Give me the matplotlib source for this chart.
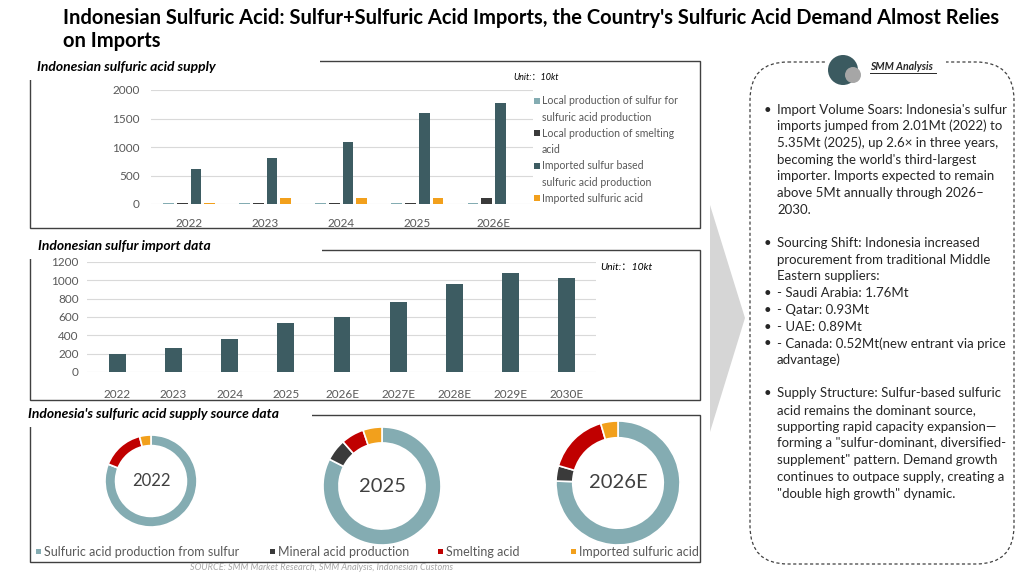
import numpy as np
import matplotlib
matplotlib.use("Agg")
import matplotlib.pyplot as plt
from matplotlib.patches import Rectangle, FancyBboxPatch, Circle, Polygon

plt.rcParams['font.family'] = ['Lato', 'Noto Sans CJK SC', 'DejaVu Sans']

# ---- data ----
supplyYears = ["2022", "2023", "2024", "2025", "2026E"]
localSulfur = [10, 10, 10, 10, 10]
localSmelting = [25, 15, 25, 25, 100]
importedSulfurBased = [610, 800, 1090, 1600, 1770]
importedAcid = [10, 100, 100, 100, 0]
supplyLabels = ["Local production of sulfur for\nsulfuric acid production",
                "Local production of smelting\nacid",
                "Imported sulfur based\nsulfuric acid production",
                "Imported sulfuric acid"]

importYears = ["2022", "2023", "2024", "2025", "2026E", "2027E", "2028E", "2029E", "2030E"]
sulfurImports = [201, 262, 365, 535, 595, 765, 960, 1075, 1020]

donutYears = ["2022", "2025", "2026E"]
donutShares = [[81, 0, 15, 4],
               [82.5, 6, 6.3, 5.2],
               [75.5, 4, 16, 4.5]]
donutLabels = ["Sulfuric acid production from sulfur", "Mineral acid production",
               "Smelting acid", "Imported sulfuric acid"]

bulletLines = [
    ("•", "Import Volume Soars: Indonesia's sulfur"),
    ("", "imports jumped from 2.01Mt (2022) to"),
    ("", "5.35Mt (2025), up 2.6\u00d7 in three years,"),
    ("", "becoming the world's third-largest"),
    ("", "importer. Imports expected to remain"),
    ("", "above 5Mt annually through 2026\u2013"),
    ("", "2030."),
    None,
    ("•", "Sourcing Shift: Indonesia increased"),
    ("", "procurement from traditional Middle"),
    ("", "Eastern suppliers:"),
    ("•", "- Saudi Arabia: 1.76Mt"),
    ("•", "- Qatar: 0.93Mt"),
    ("•", "- UAE: 0.89Mt"),
    ("•", "- Canada: 0.52Mt(new entrant via price"),
    ("", "advantage)"),
    None,
    ("•", "Supply Structure: Sulfur-based sulfuric"),
    ("", "acid remains the dominant source,"),
    ("", "supporting rapid capacity expansion\u2014"),
    ("", "forming a \"sulfur-dominant, diversified-"),
    ("", "supplement\" pattern. Demand growth"),
    ("", "continues to outpace supply, creating a"),
    ("", "\"double high growth\" dynamic."),
]

cLight = "#84ACB2"
cDark = "#3A3A3A"
cSlate = "#3D5C62"
cRed = "#C00000"
cOrange = "#F2A01C"
cTick = "#595959"

W, H = 1024, 580


def pxRect(x0, y0, x1, y1):
    return [x0 / W, 1 - y1 / H, (x1 - x0) / W, (y1 - y0) / H]


fig = plt.figure(figsize=(W / 100, H / 100), dpi=100)

# background overlay in pixel coordinates
bg = fig.add_axes([0, 0, 1, 1])
bg.set_xlim(0, W)
bg.set_ylim(H, 0)
bg.axis("off")
bg.set_zorder(0)

# title
bg.text(63, 18, "Indonesian Sulfuric Acid: Sulfur+Sulfuric Acid Imports, the Country's Sulfuric Acid Demand Almost Relies",
        fontsize=14.5, fontweight="bold", va="center", ha="left", color="black")
bg.text(63, 41, "on Imports", fontsize=14.5, fontweight="bold", va="center", ha="left", color="black")

# panel boxes
for (x0, y0, x1, y1) in [(30, 61, 700, 228), (30, 250, 700, 400), (30, 415, 700, 562)]:
    bg.add_patch(Rectangle((x0, y0), x1 - x0, y1 - y0, fill=False, ec="#404040", lw=1.0))
panelTitles = [(37, 67, 320, "Indonesian sulfuric acid supply"),
               (38, 246, 322, "Indonesian sulfur import data"),
               (28, 414, 312, "Indonesia's sulfuric acid supply source data")]
for x, y, xe, s in panelTitles:
    bg.add_patch(Rectangle((25, y - 11), xe - 25, 24, fc="white", ec="none"))
    bg.text(x, y, s, fontsize=10, fontstyle="italic", fontweight="bold", va="center", ha="left")

bg.text(513, 77, "Unit:\uff1a10kt", fontsize=6.5, fontstyle="italic", va="center", ha="left")
bg.text(600, 268, "Unit:\uff1a10kt", fontsize=7.5, fontstyle="italic", va="center", ha="left")

# grey arrow
bg.add_patch(Polygon([(710, 205), (745, 318), (710, 432)], closed=True, fc="#D6D6D6", ec="none"))

# analysis box
bg.add_patch(FancyBboxPatch((750, 62), 264, 502, boxstyle="round,pad=0,rounding_size=38",
                            fill=False, ec="#404040", lw=0.9, ls=(0, (2.5, 2))))
bg.add_patch(Rectangle((826, 50), 120, 22, fc="white", ec="none"))
bg.add_patch(Circle((843, 70), 15, fc="#3B5A60", ec="none"))
bg.add_patch(Circle((853, 75), 8, fc="#A6A6A6", ec="none"))
bg.text(870, 67, "SMM Analysis", fontsize=7.6, fontstyle="italic", fontweight="bold",
        va="center", ha="left", color="#262626")
bg.plot([870, 936], [73, 73], color="#262626", lw=0.7)

y = 109.5
for item in bulletLines:
    if item is None:
        y += 16.7
        continue
    b, s = item
    if b:
        bg.text(764, y, b, fontsize=9.5, va="center", ha="left", color="#262626")
    bg.text(777, y, s, fontsize=9.5, va="center", ha="left", color="#262626")
    y += 16.7

bg.text(322, 567, "SOURCE: SMM Market Research, SMM Analysis, Indonesian Customs",
        fontsize=6.6, fontstyle="italic", color="#A6A6A6", va="center", ha="center")


def styleBarAxis(ax):
    ax.set_facecolor("none")
    for s in ax.spines.values():
        s.set_visible(False)
    ax.tick_params(length=0, colors=cTick, labelsize=8.5)
    ax.yaxis.grid(True, color="#D9D9D9", lw=0.8)
    ax.set_axisbelow(True)


# panel 1: supply
ax1 = fig.add_axes(pxRect(151, 90, 533, 204))
styleBarAxis(ax1)
xs = np.arange(len(supplyYears))
series = [localSulfur, localSmelting, importedSulfurBased, importedAcid]
colors = [cLight, cDark, cSlate, cOrange]
for k, (vals, col) in enumerate(zip(series, colors)):
    ax1.bar(xs + (k - 1.5) * 0.18, vals, width=0.14, color=col, zorder=3)
ax1.set_xlim(-0.5, 4.52)
ax1.set_ylim(0, 2000)
ax1.set_yticks([0, 500, 1000, 1500, 2000])
ax1.set_xticks(xs)
ax1.set_xticklabels(supplyYears)
ax1.tick_params(axis="x", pad=10)
ax1.tick_params(axis="y", pad=8)

# legend of panel 1: marker sits on the first line of each entry
row = 0
for lab, col in zip(supplyLabels, colors):
    ly = 101 + 16.2 * row
    bg.add_patch(Rectangle((534, ly - 3), 6, 6, fc=col, ec="none"))
    for j, part in enumerate(lab.split("\n")):
        bg.text(542, ly + 16.2 * j, part, fontsize=7.6, color=cTick, va="center", ha="left")
    row += len(lab.split("\n"))

# panel 2: imports
ax2 = fig.add_axes(pxRect(87, 262, 596, 372))
styleBarAxis(ax2)
xs2 = np.arange(len(importYears))
ax2.bar(xs2, sulfurImports, width=0.3, color=cSlate, zorder=3)
ax2.set_xlim(-0.54, 8.52)
ax2.set_ylim(0, 1200)
ax2.set_yticks(np.arange(0, 1201, 200))
ax2.set_xticks(xs2)
ax2.set_xticklabels(importYears)
ax2.tick_params(axis="x", pad=12)
ax2.tick_params(axis="y", pad=6)

# panel 3: donuts
donutGeom = [(151, 481, 46, 0.23, 12), (382, 486, 59, 0.27, 14.5), (618, 483, 62, 0.27, 14.5)]
for (cx, cy, r, w, fs), yr, shares in zip(donutGeom, donutYears, donutShares):
    ax = fig.add_axes(pxRect(cx - r, cy - r, cx + r, cy + r))
    ax.pie(shares, colors=[cLight, cDark, cRed, cOrange], startangle=90, counterclock=False,
           radius=1, wedgeprops=dict(width=w, edgecolor="white", linewidth=1.2))
    ax.set_xlim(-1, 1)
    ax.set_ylim(-1, 1)
    ax.text(0, 0, yr, fontsize=fs, ha="center", va="center", color="#404040")

# donut legend, entries placed like the original
legendX = [36, 270, 438, 571]
for lx, lab, col in zip(legendX, donutLabels, [cLight, cDark, cRed, cOrange]):
    bg.add_patch(Rectangle((lx, 549), 5, 5, fc=col, ec="none"))
    bg.text(lx + 8, 551.5, lab, fontsize=9, color=cTick, va="center", ha="left")

fig.savefig("out.png", dpi=100)
plt.close(fig)
